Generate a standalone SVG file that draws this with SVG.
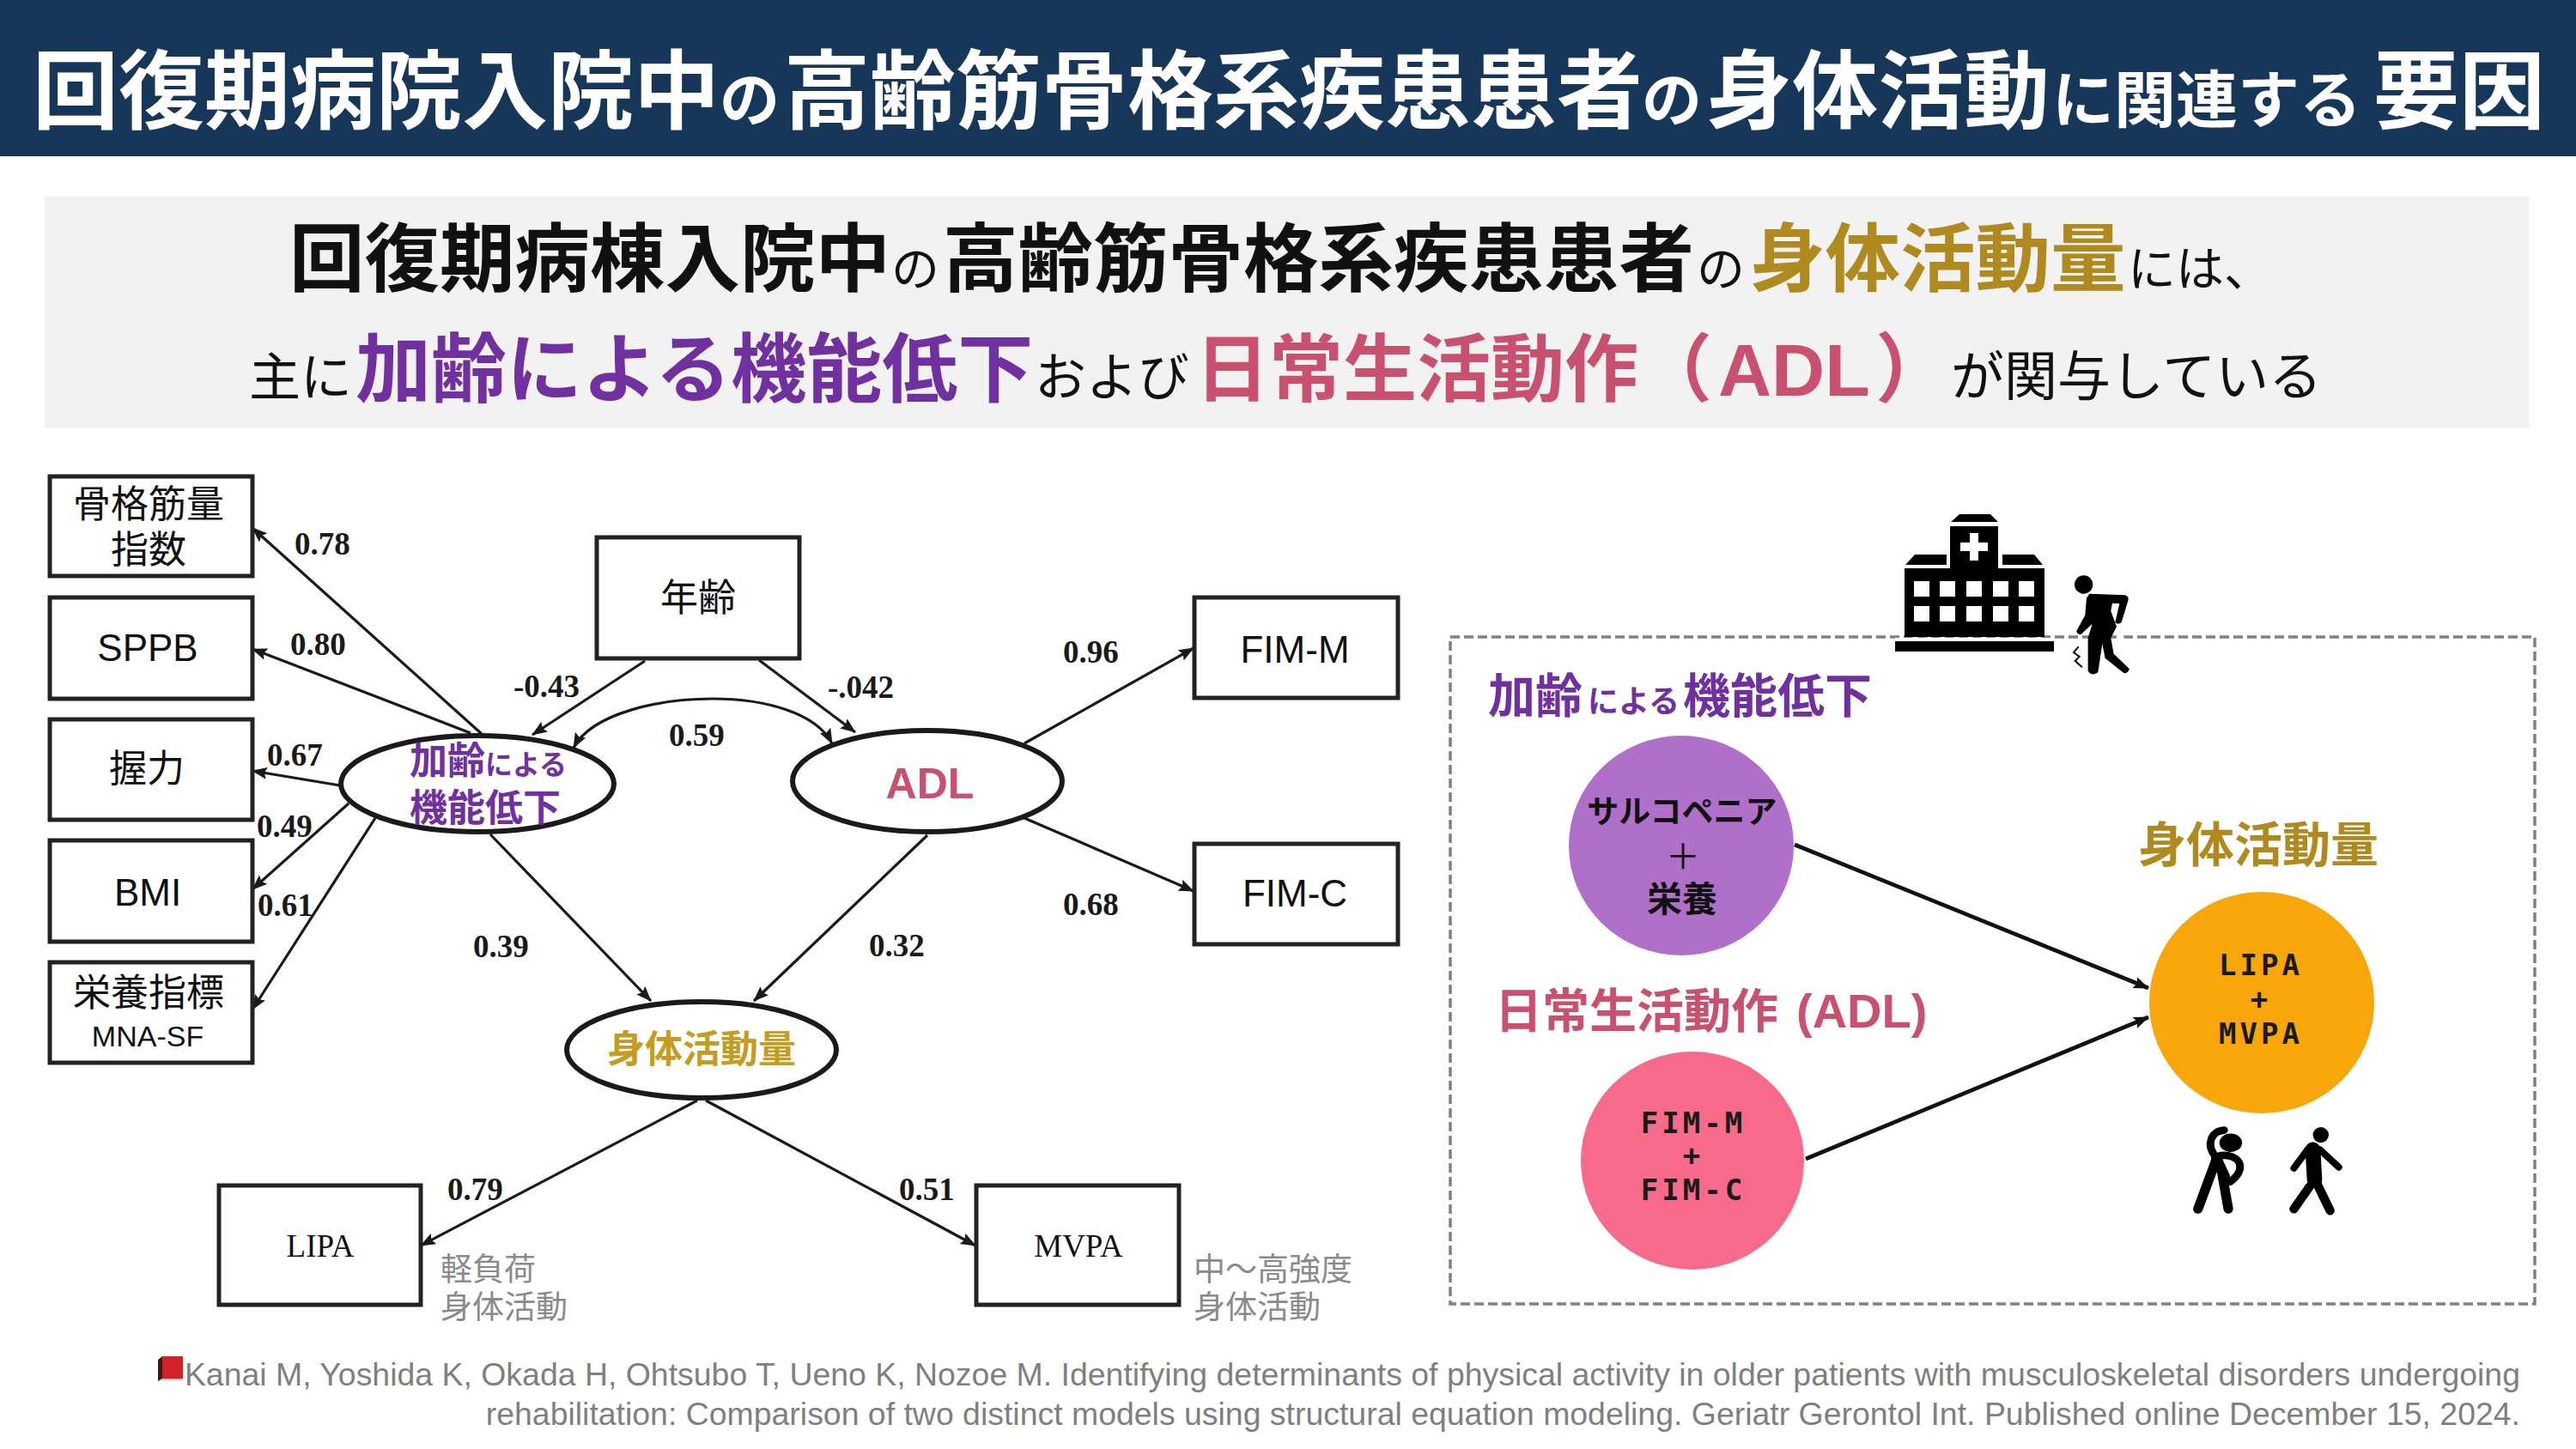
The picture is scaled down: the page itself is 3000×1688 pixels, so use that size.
<svg xmlns="http://www.w3.org/2000/svg" width="3000" height="1688" viewBox="0 0 3000 1688">
<style>
text{font-family:"Noto Sans CJK JP","Noto Sans CJK SC",sans-serif;fill:#111}
.b{font-weight:700}
.lat{font-family:"Liberation Sans",Arial,sans-serif}
.coef{font-family:"Liberation Serif","Times New Roman",serif;font-weight:700;font-size:37px;fill:#1a1a1a}
.box{fill:#fff;stroke:#222;stroke-width:5}
.oval{fill:#fff;stroke:#1a1a1a;stroke-width:6}
.n{font-size:44px;text-anchor:middle;font-weight:400}
.nl{font-family:"Liberation Sans",Arial,sans-serif;font-size:44px;text-anchor:middle}
.ser{font-family:"Liberation Serif","Times New Roman",serif;font-size:37px;text-anchor:middle}
.gray{font-size:37px;fill:#8a8a8a}
.cite{font-family:"Liberation Sans",Arial,sans-serif;font-size:37.44px;fill:#7f7f7f;text-anchor:end}
.pur{fill:#7030a0}.pink{fill:#c9506e}.gold{fill:#b08a1e}.gold2{fill:#c49c20}
.mono{font-family:"DejaVu Sans Mono",monospace;font-weight:700;font-size:34px;letter-spacing:4px;text-anchor:middle;fill:#1a1a1a}
.c{fill:none;stroke:#1a1a1a;stroke-width:3.2;marker-end:url(#ah)}
.c2{fill:none;stroke:#111;stroke-width:4.6;marker-end:url(#ah2)}
</style>
<defs>
<marker id="ah" markerUnits="userSpaceOnUse" markerWidth="20" markerHeight="16" refX="17" refY="7" orient="auto-start-reverse"><path d="M0 0L18 7L0 14L3 7Z" fill="#1a1a1a"/></marker>
<marker id="ah2" markerUnits="userSpaceOnUse" markerWidth="20" markerHeight="16" refX="17" refY="7" orient="auto-start-reverse"><path d="M0 0L18 7L0 14L3 7Z" fill="#111"/></marker>
</defs>
<rect width="3000" height="1688" fill="#fff"/>
<g id="header">
<rect width="3000" height="182" fill="#17375a"/>
<text class="b" y="142" style="fill:#fff" font-size="100"><tspan x="38">回復期病院入院中</tspan><tspan x="838" font-size="70">の</tspan><tspan x="913">高齢筋骨格系疾患患者</tspan><tspan x="1912" font-size="70">の</tspan><tspan x="1987">身体活動</tspan><tspan x="2390" font-size="72">に関連する</tspan><tspan x="2764">要因</tspan></text>
</g>
<g id="summary">
<rect x="52" y="229" width="2893" height="270" fill="#f2f2f2"/>
<text y="333" font-size="87.5"><tspan x="337" class="b">回復期病棟入院中</tspan><tspan x="1038" font-size="56">の</tspan><tspan x="1098" class="b">高齢筋骨格系疾患患者</tspan><tspan x="1976" font-size="56">の</tspan><tspan x="2038" class="b gold">身体活動量</tspan><tspan x="2478" font-size="56">には、</tspan></text>
<text y="461" font-size="88"><tspan x="290" font-size="60">主に</tspan><tspan x="414" class="b pur">加齢による機能低下</tspan><tspan x="1205" font-size="60">および</tspan><tspan x="1392" class="b pink" font-size="86">日常生活動作（</tspan><tspan class="b pink lat" x="2001" font-size="86">ADL</tspan><tspan x="2184" class="b pink">）</tspan><tspan x="2272" font-size="62">が関与している</tspan></text>
</g>
<g id="connectors">
<line class="c" x1="561" y1="855" x2="294" y2="615"/>
<line class="c" x1="548" y1="854" x2="294" y2="756"/>
<line class="c" x1="396" y1="915" x2="294" y2="898"/>
<line class="c" x1="406" y1="936" x2="294" y2="1036"/>
<line class="c" x1="437" y1="953" x2="294" y2="1176"/>
<line class="c" x1="751" y1="770" x2="620" y2="856"/>
<line class="c" x1="884" y1="769" x2="996" y2="853"/>
<path class="c" marker-start="url(#ah)" d="M668 871C690 830 770 814 830 814C890 814 950 830 969 866"/>
<line class="c" x1="571" y1="972" x2="758" y2="1166"/>
<line class="c" x1="1193" y1="866" x2="1390" y2="755"/>
<line class="c" x1="1193" y1="953" x2="1390" y2="1038"/>
<line class="c" x1="1080" y1="973" x2="878" y2="1166"/>
<line class="c" x1="812" y1="1282" x2="490" y2="1451"/>
<line class="c" x1="822" y1="1282" x2="1136" y2="1451"/>
<line class="c2" x1="2090" y1="984" x2="2502" y2="1151"/>
<line class="c2" x1="2103" y1="1350" x2="2502" y2="1185"/>
</g>
<g id="coefs">
<text class="coef" x="343" y="646">0.78</text>
<text class="coef" x="338" y="763">0.80</text>
<text class="coef" x="311" y="892">0.67</text>
<text class="coef" x="299" y="975">0.49</text>
<text class="coef" x="300" y="1067">0.61</text>
<text class="coef" x="598" y="812">-0.43</text>
<text class="coef" x="779" y="869">0.59</text>
<text class="coef" x="551" y="1115">0.39</text>
<text class="coef" x="964" y="813">-.042</text>
<text class="coef" x="1238" y="772">0.96</text>
<text class="coef" x="1238" y="1066">0.68</text>
<text class="coef" x="1012" y="1114">0.32</text>
<text class="coef" x="521" y="1398">0.79</text>
<text class="coef" x="1047" y="1398">0.51</text>
</g>
<g id="n-smi"><rect class="box" x="58" y="555" width="236" height="116"/><text class="n" x="173" y="603">骨格筋量</text><text class="n" x="173" y="656">指数</text></g>
<g id="n-sppb"><rect class="box" x="58" y="696" width="236" height="118"/><text class="nl" x="172" y="770">SPPB</text></g>
<g id="n-grip"><rect class="box" x="58" y="838" width="236" height="117"/><text class="n" x="171" y="911">握力</text></g>
<g id="n-bmi"><rect class="box" x="58" y="979" width="236" height="118"/><text class="nl" x="172" y="1055">BMI</text></g>
<g id="n-nutr"><rect class="box" x="58" y="1121" width="236" height="117"/><text class="n" x="173" y="1172">栄養指標</text><text class="nl" x="172" y="1219" style="font-size:34px">MNA-SF</text></g>
<g id="n-age"><rect class="box" x="695" y="626" width="236" height="141"/><text class="n" x="813" y="712">年齢</text></g>
<g id="n-fimm"><rect class="box" x="1391" y="696" width="237" height="117"/><text class="nl" x="1508" y="772">FIM-M</text></g>
<g id="n-fimc"><rect class="box" x="1391" y="983" width="237" height="117"/><text class="nl" x="1508" y="1056">FIM-C</text></g>
<g id="n-lipa"><rect class="box" x="255" y="1381" width="235" height="139"/><text class="ser" x="373" y="1464">LIPA</text></g>
<g id="n-mvpa"><rect class="box" x="1137" y="1381" width="236" height="139"/><text class="ser" x="1256" y="1464">MVPA</text></g>
<g id="n-decline"><ellipse class="oval" cx="556" cy="913" rx="159" ry="56"/><text class="b pur" y="902" font-size="44"><tspan x="477">加齢</tspan><tspan x="565" font-size="32">による</tspan></text><text class="b pur" x="477" y="957" font-size="44">機能低下</text></g>
<g id="n-adl"><ellipse class="oval" cx="1080" cy="910" rx="157" ry="59"/><text class="b lat pink" x="1083" y="930" font-size="50" text-anchor="middle">ADL</text></g>
<g id="n-pa"><ellipse class="oval" cx="817" cy="1223" rx="157" ry="56"/><text class="b gold2" x="817" y="1238" font-size="44" text-anchor="middle">身体活動量</text></g>
<g id="gray-notes">
<text class="gray" x="513" y="1492">軽負荷</text><text class="gray" x="513" y="1536">身体活動</text>
<text class="gray" x="1390" y="1492">中～高強度</text><text class="gray" x="1390" y="1536">身体活動</text>
</g>
<g id="citation">
<path d="M189 1580H213V1606H189Z" fill="#d32128"/><path d="M184 1584L189 1580V1606L184 1609Z" fill="#3a1a1a"/><path d="M186 1608L189 1606H213V1608Z" fill="#e8b8b8"/>
<text class="cite" x="2935" y="1614">Kanai M, Yoshida K, Okada H, Ohtsubo T, Ueno K, Nozoe M. Identifying determinants of physical activity in older patients with musculoskeletal disorders undergoing</text>
<text class="cite" x="2935" y="1660">rehabilitation: Comparison of two distinct models using structural equation modeling. Geriatr Gerontol Int. Published online December 15, 2024.</text>
</g>
<rect id="frame" x="1689" y="742" width="1263" height="777" fill="none" stroke="#808080" stroke-width="3.5" stroke-dasharray="11 5"/>
<g id="hospital" fill="#000">
<rect x="2207" y="743" width="185" height="4" fill="#fff"/>
<rect x="2207" y="747" width="185" height="12"/>
<path d="M2218 662H2271V613H2327V662H2381V742H2218Z"/>
<path d="M2272 608L2282 599H2318L2327 608ZM2219 658L2230 646H2267V658ZM2332 646H2369L2379 658H2332Z"/>
<path d="M2294 621H2304V632H2315V642H2304V653H2294V642H2283V632H2294Z" fill="#fff"/>
<g fill="#fff"><rect x="2229" y="677" width="18" height="18"/><rect x="2259" y="677" width="18" height="18"/><rect x="2290" y="677" width="18" height="18"/><rect x="2321" y="677" width="18" height="18"/><rect x="2351" y="677" width="18" height="18"/><rect x="2229" y="706" width="18" height="18"/><rect x="2259" y="706" width="18" height="18"/><rect x="2290" y="706" width="18" height="18"/><rect x="2321" y="706" width="18" height="18"/><rect x="2351" y="706" width="18" height="18"/></g>
</g>
<g id="hurt-person" transform="translate(2150 580) scale(.3333)">
<rect x="945" y="475" width="25" height="24" fill="#fff"/>
<circle cx="830" cy="303" r="32" fill="#000"/>
<path d="M850 335L975 340Q990 345 985 360L962 435Q950 445 940 435L955 370L930 368L925 395L945 450L925 490L935 545L990 598Q985 615 970 612L905 560L895 510L880 610Q860 625 845 605L845 490L860 440L820 478Q805 475 805 465L835 410L840 350Z" fill="#000"/>
<path d="M812 520L795 540L815 555L800 570L825 592" fill="none" stroke="#000" stroke-width="6"/>
</g>
<g id="n-sarc"><ellipse cx="1958" cy="985" rx="131" ry="128" fill="#b06fc8"/><text class="b" x="1959" y="959" font-size="37" text-anchor="middle">サルコペニア</text><text x="1960" y="1012" font-size="40" text-anchor="middle">＋</text><text class="b" x="1959" y="1062" font-size="41" text-anchor="middle">栄養</text></g>
<g id="n-adlc"><ellipse cx="1971" cy="1352" rx="130" ry="127" fill="#f76a8a"/><text class="mono" x="1972" y="1320">FIM-M</text><text class="mono" x="1972" y="1358">+</text><text class="mono" x="1972" y="1398">FIM-C</text></g>
<g id="n-pac"><ellipse cx="2634" cy="1168" rx="131" ry="129" fill="#f9a60a"/><text class="mono" x="2633" y="1136">LIPA</text><text class="mono" x="2633" y="1176">+</text><text class="mono" x="2633" y="1216">MVPA</text></g>
<g id="right-headings">
<text class="b pur" y="830" font-size="55"><tspan x="1733">加齢</tspan><tspan x="1849" font-size="36">による</tspan><tspan x="1960">機能低下</tspan></text>
<text class="b pink" y="1197" font-size="55"><tspan x="1741">日常生活動作</tspan><tspan class="lat" x="2092" font-size="56">(ADL)</tspan></text>
<text class="b gold" x="2490" y="1004" font-size="56">身体活動量</text>
</g>
<g id="activity-icons" transform="translate(2350 920) scale(.4018 .3954)" fill="none" stroke="#000" stroke-linecap="round" stroke-linejoin="round">
<ellipse cx="617" cy="1040" rx="33" ry="27" fill="#000" stroke="none"/>
<path d="M598 1003C560 1005 545 1045 572 1080" stroke-width="22"/>
<path d="M585 1078C640 1070 670 1115 615 1155" stroke-width="22"/>
<path d="M575 1085L600 1140" stroke-width="30"/>
<path d="M575 1090L522 1235M590 1120L610 1235" stroke-width="28"/>
<circle cx="878" cy="1017" r="23" fill="#000" stroke="none"/>
<path d="M855 1060L860 1150" stroke-width="44"/>
<path d="M840 1060L800 1115M875 1060L930 1112" stroke-width="20"/>
<path d="M862 1150L905 1240M845 1170L800 1235" stroke-width="26"/>
</g>
</svg>
